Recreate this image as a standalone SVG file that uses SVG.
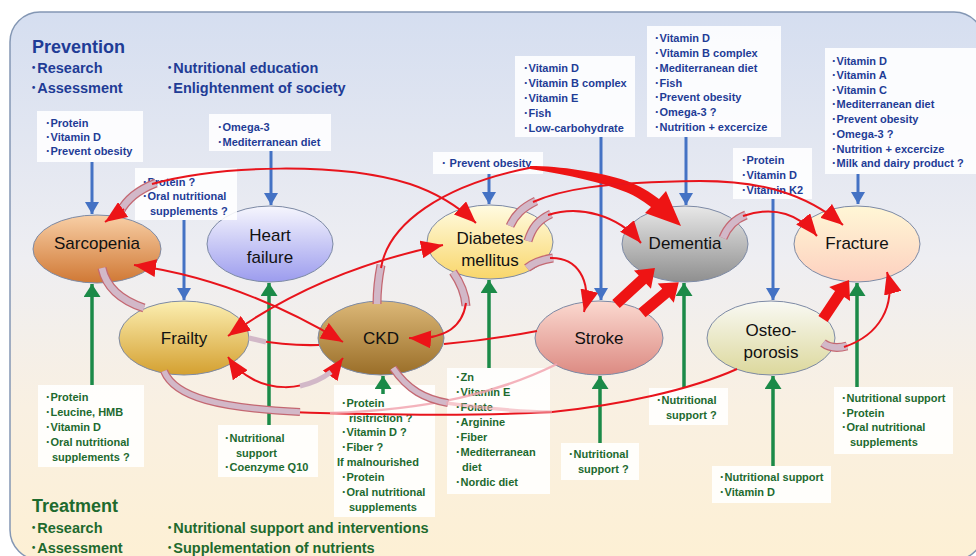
<svg xmlns="http://www.w3.org/2000/svg" width="976" height="556" viewBox="0 0 976 556">
<defs>
<linearGradient id="gbg" x1="0" y1="0" x2="0" y2="1">
<stop offset="0" stop-color="#d5def0"/><stop offset="0.45" stop-color="#eeeef2"/><stop offset="0.72" stop-color="#f9f0e2"/><stop offset="1" stop-color="#fdf0d4"/>
</linearGradient>
<linearGradient id="g-sar" x1="0" y1="0" x2="0" y2="1"><stop offset="0" stop-color="#f8cfa6"/><stop offset="1" stop-color="#d07834"/></linearGradient>
<linearGradient id="g-hf" x1="0" y1="0" x2="0" y2="1"><stop offset="0" stop-color="#f6f6fd"/><stop offset="1" stop-color="#9c9cee"/></linearGradient>
<linearGradient id="g-fr" x1="0" y1="0" x2="0" y2="1"><stop offset="0" stop-color="#fcefb2"/><stop offset="1" stop-color="#d4a030"/></linearGradient>
<linearGradient id="g-ckd" x1="0" y1="0" x2="0" y2="1"><stop offset="0" stop-color="#dcb878"/><stop offset="1" stop-color="#9a6e28"/></linearGradient>
<linearGradient id="g-dm" x1="0" y1="0" x2="0" y2="1"><stop offset="0" stop-color="#fffbe2"/><stop offset="1" stop-color="#f9d66a"/></linearGradient>
<linearGradient id="g-dem" x1="0" y1="0" x2="0" y2="1"><stop offset="0" stop-color="#e8e8e8"/><stop offset="1" stop-color="#8f8f8f"/></linearGradient>
<linearGradient id="g-st" x1="0" y1="0" x2="0" y2="1"><stop offset="0" stop-color="#fbd9d0"/><stop offset="1" stop-color="#dc8a82"/></linearGradient>
<linearGradient id="g-os" x1="0" y1="0" x2="0" y2="1"><stop offset="0" stop-color="#f9f9f4"/><stop offset="1" stop-color="#dcd89c"/></linearGradient>
<linearGradient id="g-fx" x1="0" y1="0" x2="0" y2="1"><stop offset="0" stop-color="#fff7d6"/><stop offset="1" stop-color="#fdd0bf"/></linearGradient>
<marker id="mr" viewBox="0 0 22 18" refX="22" refY="9" markerWidth="22" markerHeight="18" markerUnits="userSpaceOnUse" orient="auto-start-reverse"><path d="M0,0 L22,9 L0,18 Z" fill="#ec1418"/></marker>
<marker id="mb" viewBox="0 0 12 14" refX="12" refY="7" markerWidth="12" markerHeight="14" markerUnits="userSpaceOnUse" orient="auto"><path d="M0,0 L12,7 L0,14 Z" fill="#4472c4"/></marker>
<marker id="mg" viewBox="0 0 13 17" refX="13" refY="8.5" markerWidth="13" markerHeight="17" markerUnits="userSpaceOnUse" orient="auto"><path d="M0,0 L13,8.5 L0,17 Z" fill="#1b8a48"/></marker>
</defs>
<style>
text{font-family:"Liberation Sans","Noto Sans CJK JP",Arial,sans-serif}
.node ellipse{stroke:#7d8aa5;stroke-width:1}
.lbl{font-size:17px;fill:#111;text-anchor:middle}
.box{fill:#ffffff;fill-opacity:0.88}
.pt{font-size:11px;font-weight:700;fill:#1f3c96}
.tt{font-size:11px;font-weight:700;fill:#1d6a2f}
.ph{font-size:14.5px;font-weight:700;fill:#1f3c96}
.th{font-size:14.5px;font-weight:700;fill:#1e6a2e}
.red{fill:none;stroke:#e8141c;stroke-width:2}
.pink{fill:none;stroke:#f2a6b0;stroke-width:2.5;stroke-opacity:0.85}
.ribo{fill:none;stroke:#c46872;stroke-width:9}
.rib{fill:none;stroke:#d2b8c8;stroke-width:6.5}
.thick{fill:#ee1414}
.blue{fill:none;stroke:#4472c4;stroke-width:3;marker-end:url(#mb)}
.green{fill:none;stroke:#1b8a48;stroke-width:3.5;marker-end:url(#mg)}
.arr{marker-end:url(#mr)}
.arr2{marker-start:url(#mr);marker-end:url(#mr)}
</style>

<rect x="10" y="12" width="974" height="548" rx="30" fill="url(#gbg)" stroke="#8497b4" stroke-width="1.5"/>

<g id="headers">
<text class="ph" x="32" y="53" style="font-size:18px">Prevention</text>
<text class="ph" x="30" y="73">･Research</text>
<text class="ph" x="30" y="93">･Assessment</text>
<text class="ph" x="166" y="73">･Nutritional education</text>
<text class="ph" x="166" y="93">･Enlightenment of society</text>
<text class="th" x="32" y="512" style="font-size:18px">Treatment</text>
<text class="th" x="30" y="533">･Research</text>
<text class="th" x="30" y="553">･Assessment</text>
<text class="th" x="166" y="533">･Nutritional support and interventions</text>
<text class="th" x="166" y="553">･Supplementation of nutrients</text>
</g>

<g id="nodes">
<g id="sarcopenia" class="node"><ellipse cx="97" cy="249" rx="64" ry="34" fill="url(#g-sar)"/><text class="lbl" x="97" y="249">Sarcopenia</text></g>
<g id="heart-failure" class="node"><ellipse cx="270" cy="244" rx="63" ry="38" fill="url(#g-hf)"/><text class="lbl" x="270" y="241">Heart</text><text class="lbl" x="270" y="263">failure</text></g>
<g id="frailty" class="node"><ellipse cx="184" cy="338" rx="65" ry="37" fill="url(#g-fr)"/><text class="lbl" x="184" y="344">Frailty</text></g>
<g id="ckd" class="node"><ellipse cx="381" cy="338" rx="63" ry="37" fill="url(#g-ckd)"/><text class="lbl" x="381" y="344">CKD</text></g>
<g id="diabetes" class="node"><ellipse cx="490" cy="242" rx="63" ry="37" fill="url(#g-dm)"/><text class="lbl" x="490" y="244">Diabetes</text><text class="lbl" x="490" y="266">mellitus</text></g>
<g id="dementia" class="node"><ellipse cx="685" cy="244" rx="63" ry="38" fill="url(#g-dem)"/><text class="lbl" x="685" y="249">Dementia</text></g>
<g id="fracture" class="node"><ellipse cx="857" cy="244" rx="63" ry="38" fill="url(#g-fx)"/><text class="lbl" x="857" y="249">Fracture</text></g>
<g id="stroke" class="node"><ellipse cx="599" cy="338" rx="64" ry="37" fill="url(#g-st)"/><text class="lbl" x="599" y="344">Stroke</text></g>
<g id="osteoporosis" class="node"><ellipse cx="771" cy="338" rx="64" ry="37" fill="url(#g-os)"/><text class="lbl" x="771" y="336">Osteo-</text><text class="lbl" x="771" y="358">porosis</text></g>
</g>

<g id="prevention-boxes">
<g id="prev-sarcopenia"><rect class="box" x="37" y="111" width="106" height="51"/>
<text class="pt" x="45" y="127">･Protein</text><text class="pt" x="45" y="141">･Vitamin D</text><text class="pt" x="45" y="155">･Prevent obesity</text></g>
<g id="prev-heart-failure"><rect class="box" x="209" y="114" width="122" height="37"/>
<text class="pt" x="217" y="131">･Omega-3</text><text class="pt" x="217" y="146">･Mediterranean diet</text></g>
<g id="prev-frailty"><rect class="box" x="135" y="168" width="102" height="52"/>
<text class="pt" x="142" y="186">･Protein ?</text><text class="pt" x="142" y="200">･Oral nutritional</text><text class="pt" x="150" y="215">supplements ?</text></g>
<g id="prev-diabetes"><rect class="box" x="433" y="152" width="110" height="22"/>
<text class="pt" x="441" y="167">･ Prevent obesity</text></g>
<g id="prev-stroke"><rect class="box" x="515" y="56" width="120" height="81"/>
<text class="pt" x="523" y="72">･Vitamin D</text><text class="pt" x="523" y="87">･Vitamin B complex</text><text class="pt" x="523" y="102">･Vitamin E</text><text class="pt" x="523" y="117">･Fish</text><text class="pt" x="523" y="132">･Low-carbohydrate</text></g>
<g id="prev-dementia"><rect class="box" x="647" y="26" width="134" height="111"/>
<text class="pt" x="654" y="42">･Vitamin D</text><text class="pt" x="654" y="57">･Vitamin B complex</text><text class="pt" x="654" y="72">･Mediterranean diet</text><text class="pt" x="654" y="87">･Fish</text><text class="pt" x="654" y="101">･Prevent obesity</text><text class="pt" x="654" y="116">･Omega-3 ?</text><text class="pt" x="654" y="131">･Nutrition + excercize</text></g>
<g id="prev-osteoporosis"><rect class="box" x="733" y="148" width="79" height="51"/>
<text class="pt" x="741" y="164">･Protein</text><text class="pt" x="741" y="179">･Vitamin D</text><text class="pt" x="741" y="194">･Vitamin K2</text></g>
<g id="prev-fracture"><rect class="box" x="825" y="48" width="155" height="126"/>
<text class="pt" x="831" y="65">･Vitamin D</text><text class="pt" x="831" y="79">･Vitamin A</text><text class="pt" x="831" y="94">･Vitamin C</text><text class="pt" x="831" y="108">･Mediterranean diet</text><text class="pt" x="831" y="123">･Prevent obesity</text><text class="pt" x="831" y="138">･Omega-3 ?</text><text class="pt" x="831" y="153">･Nutrition + excercize</text><text class="pt" x="831" y="167">･Milk and dairy product  ?</text></g>
</g>

<g id="treatment-boxes">
<g id="treat-sarcopenia"><rect class="box" x="38" y="385" width="106" height="82"/>
<text class="tt" x="45" y="401">･Protein</text><text class="tt" x="45" y="416">･Leucine, HMB</text><text class="tt" x="45" y="431">･Vitamin D</text><text class="tt" x="45" y="446">･Oral nutritional</text><text class="tt" x="52" y="461">supplements ?</text></g>
<g id="treat-heart-failure"><rect class="box" x="218" y="425" width="100" height="52"/>
<text class="tt" x="224" y="442">･Nutritional</text><text class="tt" x="236" y="457">support</text><text class="tt" x="224" y="471">･Coenzyme Q10</text></g>
<g id="treat-ckd"><rect class="box" x="334" y="385" width="101" height="132"/>
<text class="tt" x="341" y="407">･Protein</text><text class="tt" x="349" y="422">risitriction ?</text><text class="tt" x="341" y="436">･Vitamin D ?</text><text class="tt" x="341" y="451">･Fiber ?</text><text class="tt" x="337" y="466">If malnourished</text><text class="tt" x="341" y="481">･Protein</text><text class="tt" x="341" y="496">･Oral nutritional</text><text class="tt" x="349" y="511">supplements</text></g>
<g id="treat-diabetes"><rect class="box" x="447" y="368" width="103" height="126"/>
<text class="tt" x="455" y="381">･Zn</text><text class="tt" x="455" y="396">･Vitamin E</text><text class="tt" x="455" y="411">･Folate</text><text class="tt" x="455" y="426">･Arginine</text><text class="tt" x="455" y="441">･Fiber</text><text class="tt" x="455" y="456">･Mediterranean</text><text class="tt" x="462" y="471">diet</text><text class="tt" x="455" y="486">･Nordic diet</text></g>
<g id="treat-stroke"><rect class="box" x="561" y="443" width="78" height="37"/>
<text class="tt" x="568" y="458">･Nutritional</text><text class="tt" x="578" y="473">support ?</text></g>
<g id="treat-dementia"><rect class="box" x="649" y="388" width="79" height="37"/>
<text class="tt" x="656" y="404">･Nutritional</text><text class="tt" x="666" y="419">support ?</text></g>
<g id="treat-osteoporosis"><rect class="box" x="712" y="466" width="119" height="37"/>
<text class="tt" x="719" y="481">･Nutritional support</text><text class="tt" x="719" y="496">･Vitamin D</text></g>
<g id="treat-fracture"><rect class="box" x="834" y="387" width="119" height="67"/>
<text class="tt" x="841" y="402">･Nutritional support</text><text class="tt" x="841" y="417">･Protein</text><text class="tt" x="841" y="431">･Oral nutritional</text><text class="tt" x="850" y="446">supplements</text></g>
</g>

<g id="connectors">
<!-- prevention (blue) -->
<path class="blue" d="M92 162 V214"/>
<path class="blue" d="M271 151 V205"/>
<path class="blue" d="M184 220 V300"/>
<path class="blue" d="M489 174 V204"/>
<path class="blue" d="M601 137 V300"/>
<path class="blue" d="M686 137 V205"/>
<path class="blue" d="M773 199 V300"/>
<path class="blue" d="M858 174 V204"/>
<!-- treatment (green) -->
<path class="green" d="M92 385 V284"/>
<path class="green" d="M269 425 V283"/>
<path class="green" d="M383 394 V376"/>
<path class="green" d="M489 368 V280"/>
<path class="green" d="M600 443 V376"/>
<path class="green" d="M684 388 V283"/>
<path class="green" d="M773 466 V376"/>
<path class="green" d="M857 387 V283"/>

<!-- lower long connectors -->
<path class="red" d="M290 412 C380 415 480 416 552 412 C620 405 690 390 737 369"/>
<path class="pink" d="M330 413 C430 410 500 392 557 364"/>
<path class="ribo" style="stroke-width:8" d="M164 371 C175 398 220 408 300 412"/>
<path class="rib" style="stroke-width:5.5" d="M164 371 C175 398 220 408 300 412"/>
<path class="ribo" style="stroke-width:8" d="M393 368 C408 390 425 399 448 403"/>
<path class="rib" style="stroke-width:5.5" d="M393 368 C408 390 425 399 448 403"/>
<path class="pink" style="stroke-width:3.5;stroke-opacity:0.6" d="M446 403 C490 409 525 412 552 412"/>

<!-- Sarcopenia <-> Diabetes -->
<path class="ribo" d="M120 212 C126 200 138 190 156 183"/>
<path class="rib" d="M120 212 C126 200 138 190 156 183"/>
<path class="red arr" d="M152 184 C220 165 340 162 410 184 C440 194 460 208 476 223"/>
<path class="red arr" d="M124 209 L105 222"/>
<!-- Sarcopenia <-> CKD -->
<path class="red arr2" d="M134 265 Q240 280 343 342"/>
<!-- Sarcopenia -> Frailty -->
<path class="ribo" d="M102 268 Q108 296 144 308"/>
<path class="rib" d="M102 268 Q108 296 144 308"/>
<!-- Frailty <-> Diabetes -->
<path class="red arr2" d="M228 336 Q320 270 443 245"/>
<!-- Frailty - Stroke (behind CKD) -->
<path class="red" d="M250 339 Q285 346 319 345"/>
<path class="red" d="M444 344 Q490 340 537 331"/>
<path class="rib" style="stroke-width:5" d="M249 338 L266 342"/>
<!-- Frailty <-> CKD bottom -->
<path class="red arr2" d="M228 357 C255 397 315 397 343 358"/>
<path class="rib" style="stroke-width:5" d="M300 386 Q318 382 331 372"/>
<!-- CKD -> Dementia -->
<path class="ribo" d="M377 304 C377 290 378 280 381 265"/>
<path class="rib" d="M377 304 C377 290 378 280 381 265"/>
<path class="red" d="M381 268 C388 225 440 185 534 167"/>
<path class="thick" d="M530 166 C560 166 600 172 627 181 C640 186 650 192 659 199 L666 191 L681 226 L645 213 L651 207 C642 200 632 194 623 191 C600 182 570 175 530 169 Z"/>
<!-- Diabetes -> Fracture -->
<path class="ribo" d="M510 226 C515 215 522 208 536 201"/>
<path class="rib" d="M510 226 C515 215 522 208 536 201"/>
<path class="red arr" d="M533 202 C560 190 600 182 700 181 C760 181 805 193 843 225"/>
<!-- Diabetes -> Dementia -->
<path class="ribo" d="M528 241 C532 228 538 220 551 214"/>
<path class="rib" d="M528 241 C532 228 538 220 551 214"/>
<path class="red arr" d="M548 215 C580 205 618 215 641 243"/>
<!-- Dementia -> Fracture -->
<path class="ribo" d="M723 238 C727 228 733 220 746 215"/>
<path class="rib" d="M723 238 C727 228 733 220 746 215"/>
<path class="red arr" d="M743 216 C775 205 800 215 817 236"/>
<!-- Diabetes -> Stroke -->
<path class="ribo" d="M527 268 C533 263 540 260 553 258"/>
<path class="rib" d="M527 268 C533 263 540 260 553 258"/>
<path class="red arr" d="M550 258 C577 257 592 280 584 312"/>
<!-- Diabetes -> CKD -->
<path class="ribo" d="M453 272 C460 282 465 292 466 306"/>
<path class="rib" d="M453 272 C460 282 465 292 466 306"/>
<path class="red arr" d="M466 303 C462 330 440 340 409 338"/>
<!-- Stroke => Dementia, Osteoporosis => Fracture -->
<path class="thick" transform="translate(616 304) rotate(-42.7)" d="M0 -5.5 H36 V-12.5 L53 0 L36 12.5 V5.5 H0 Z"/>
<path class="thick" transform="translate(642 313) rotate(-40)" d="M0 -5.5 H31 V-12.5 L48 0 L31 12.5 V5.5 H0 Z"/>
<path class="thick" transform="translate(823 319) rotate(-56.3)" d="M0 -5.5 H30 V-12.5 L47 0 L30 12.5 V5.5 H0 Z"/>
<!-- Osteoporosis -> Fracture curve -->
<path class="ribo" d="M823 343 Q832 350 847 346"/>
<path class="rib" d="M823 343 Q832 350 847 346"/>
<path class="red arr" d="M844 347 C880 335 896 305 887 272"/>
</g>
</svg>
